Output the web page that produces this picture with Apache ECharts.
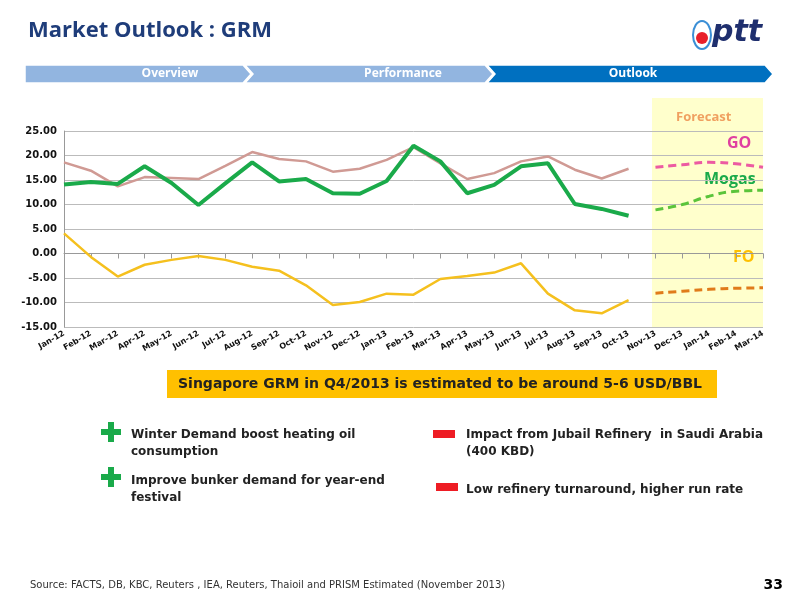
<!DOCTYPE html>
<html><head><meta charset="utf-8">
<script src="https://cdn.jsdelivr.net/npm/echarts@6/dist/echarts.min.js"></script>
<style>html,body{margin:0;padding:0;background:#fff}#c{width:800px;height:600px}</style>
</head><body><div id="c"></div>
<script>
var categories = ['Jan-12','Feb-12','Mar-12','Apr-12','May-12','Jun-12','Jul-12','Aug-12','Sep-12','Oct-12','Nov-12','Dec-12','Jan-13','Feb-13','Mar-13','Apr-13','May-13','Jun-13','Jul-13','Aug-13','Sep-13','Oct-13','Nov-13','Dec-13','Jan-14','Feb-14','Mar-14'];
var goActual = [18.6,16.9,13.7,15.6,15.4,15.2,17.9,20.7,19.3,18.8,16.7,17.3,19.1,21.7,18.4,15.2,16.4,18.8,19.8,17.1,15.3,17.3];
var mogasActual = [14.1,14.6,14.2,17.8,14.4,9.9,14.3,18.6,14.7,15.2,12.3,12.2,14.8,22.0,18.8,12.3,14.0,17.8,18.4,10.1,9.1,7.7];
var foActual = [4.1,-0.7,-4.7,-2.3,-1.3,-0.5,-1.3,-2.7,-3.5,-6.5,-10.5,-9.9,-8.2,-8.4,-5.2,-4.6,-3.9,-2.0,-8.2,-11.6,-12.2,-9.5];
var goForecast = [17.6,18.1,18.6,18.3,17.6];
var mogasForecast = [8.9,10.0,11.7,12.7,12.9];
var foForecast = [-8.1,-7.7,-7.3,-7.1,-7.0];
var yTicks = [-15,-10,-5,0,5,10,15,20,25];

function pad(arr, start){ var r=[]; for(var i=0;i<categories.length;i++){ var j=i-start; r.push(j>=0&&j<arr.length?arr[j]:null);} return r; }
var fStart = goActual.length;

var chart = echarts.init(document.getElementById('c'));
var F = 'Verdana, "DejaVu Sans", sans-serif';
function chevron(x,w,color,first){
  var pts = first ? [[x,0],[x+w,0],[x+w+8,9],[x+w,18],[x,18]] : [[x,0],[x+w,0],[x+w+8,9],[x+w,18],[x,18],[x+8,9]];
  return {type:'polygon',shape:{points:pts},y:65,style:{fill:color,stroke:'#fff',lineWidth:1.5},z:1};
}
var bullets = [
  {t:'Winter Demand boost heating oil\nconsumption', x:131, y:426, plus:true, bx:101, by:422},
  {t:'Improve bunker demand for year-end\nfestival', x:131, y:472, plus:true, bx:101, by:467},
  {t:'Impact from Jubail Refinery  in Saudi Arabia\n(400 KBD)', x:466, y:426, plus:false, bx:433, by:430},
  {t:'Low refinery turnaround, higher run rate', x:466, y:481, plus:false, bx:436, by:483}
];
var g = [
  {type:'rect',shape:{x:652,y:98,width:111,height:230},style:{fill:'#ffffcc'},z:-10},
  {type:'text',left:28,top:20,style:{text:'Market Outlook : GRM',font:'bold 22px "Open Sans", sans-serif',fill:'#1f3d7a'}},
  chevron(25,218,'#92b5e0',true), chevron(245,240,'#92b5e0',false), chevron(487,278,'#0070c0',false),
  {type:'text',x:170,y:74,style:{text:'Overview',font:'bold 12px "Open Sans", sans-serif',fill:'#fff',align:'center',verticalAlign:'middle'},z:2},
  {type:'text',x:403,y:74,style:{text:'Performance',font:'bold 12px "Open Sans", sans-serif',fill:'#fff',align:'center',verticalAlign:'middle'},z:2},
  {type:'text',x:633,y:74,style:{text:'Outlook',font:'bold 12px "Open Sans", sans-serif',fill:'#fff',align:'center',verticalAlign:'middle'},z:2},
  {type:'ellipse',shape:{cx:702,cy:35,rx:9,ry:14},style:{fill:'#fff',stroke:'#3b8fd6',lineWidth:2}},
  {type:'circle',shape:{cx:702,cy:38,r:6},style:{fill:'#e8202a'}},
  {type:'text',x:712,y:18,style:{text:'ptt',font:'italic bold 30px "DejaVu Sans", sans-serif',fill:'#1f2f6e'}},
  {type:'text',x:676,y:111,style:{text:'Forecast',font:'bold 13px "Open Sans", sans-serif',fill:'#f0a060'}},
  {type:'text',x:727,y:135,style:{text:'GO',font:'bold 16px "Open Sans", sans-serif',fill:'#e040a0'}},
  {type:'text',x:704,y:171,style:{text:'Mogas',font:'bold 16px "Open Sans", sans-serif',fill:'#1aaa4a'}},
  {type:'text',x:733,y:249,style:{text:'FO',font:'bold 16px "Open Sans", sans-serif',fill:'#ffc000'}},
  {type:'rect',shape:{x:167,y:370,width:550,height:28},style:{fill:'#ffc000'}},
  {type:'text',x:440,y:384,style:{text:'Singapore GRM in Q4/2013 is estimated to be around 5-6 USD/BBL',font:'bold 14px Verdana, "DejaVu Sans", sans-serif',fill:'#222',align:'center',verticalAlign:'middle'}},
  {type:'text',left:30,top:580,style:{text:'Source: FACTS, DB, KBC, Reuters , IEA, Reuters, Thaioil and PRISM Estimated (November 2013)',font:'10px Verdana, "DejaVu Sans", sans-serif',fill:'#333'}},
  {type:'text',right:17,top:578,style:{text:'33',font:'bold 14px Verdana, "DejaVu Sans", sans-serif',fill:'#000'}}
];
bullets.forEach(function(b){
  g.push({type:'text',x:b.x,y:b.y,style:{text:b.t,font:'bold 12px Verdana, "DejaVu Sans", sans-serif',fill:'#222',lineHeight:17}});
  if(b.plus){
    g.push({type:'rect',shape:{x:b.bx+7,y:b.by,width:6,height:20},style:{fill:'#1aaa4a'}});
    g.push({type:'rect',shape:{x:b.bx,y:b.by+7,width:20,height:6},style:{fill:'#1aaa4a'}});
  } else {
    g.push({type:'rect',shape:{x:b.bx,y:b.by,width:22,height:8},style:{fill:'#ee1c24'}});
  }
});
function line(data,color,w,dash){
  return {type:'line',data:data,symbol:'none',smooth:!!dash,connectNulls:false,lineStyle:{color:color,width:w,type:dash?[8,5]:'solid'},z:dash?3:2};
}
chart.setOption({
  animation:false,
  textStyle:{fontFamily:F},
  grid:{left:64,right:37,top:131,bottom:273},
  xAxis:{type:'category',data:categories,boundaryGap:false,
    axisLine:{lineStyle:{color:'#999'}},axisTick:{show:true,lineStyle:{color:'#999'}},
    axisLabel:{rotate:30,fontSize:8,fontWeight:'bold',color:'#111',interval:0,margin:6}},
  yAxis:{type:'value',min:-15,max:25,interval:5,
    axisLine:{show:true,lineStyle:{color:'#999'}},
    axisLabel:{fontSize:10,fontWeight:'bold',color:'#111',margin:7,formatter:function(v){return v.toFixed(2);}},
    splitLine:{lineStyle:{color:'#bbb'}}},
  graphic:g,
  series:[
    line(goActual,'#d09a94',2.5),
    line(mogasActual,'#1aaa4a',4),
    line(foActual,'#f5c01e',2.5),
    line(pad(goForecast,fStart),'#ec5aa2',3,true),
    line(pad(mogasForecast,fStart),'#5bc43b',3,true),
    line(pad(foForecast,fStart),'#e07b1a',3,true)
  ]
});
</script></body></html>
